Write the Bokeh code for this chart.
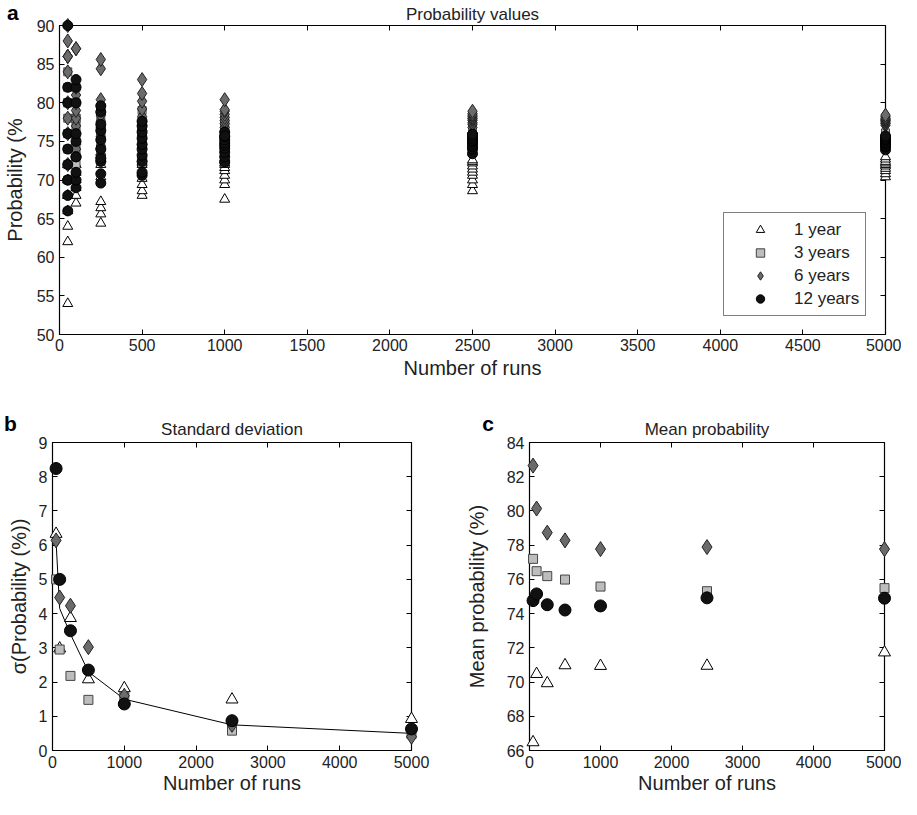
from bokeh.plotting import figure
from bokeh.models import Legend, LegendItem, LinearAxis, FixedTicker, Range1d
from bokeh.core.properties import value
from bokeh.layouts import column, row
from bokeh.embed import file_html
from bokeh.resources import INLINE

runs = [50, 100, 250, 500, 1000, 2500, 5000]
series_names = ["1 year", "3 years", "6 years", "12 years"]

# Panel a: probability values (%) of each repetition, per number of runs
prob_1yr = [
    [54, 62, 64, 66, 68, 68, 70, 70, 72, 72],
    [67, 68, 69, 70, 70, 71, 71, 72, 72, 75],
    [64.4, 65.6, 66.4, 67.2, 70.4, 72.0, 72.8, 73.6, 74.4, 73.2],
    [68.0, 68.6, 69.4, 70.2, 71.2, 72.0, 72.4, 72.8, 73.2, 72.2],
    [67.5, 69.4, 70.0, 70.6, 71.2, 71.6, 72.0, 72.2, 72.6, 72.9],
    [68.6, 69.4, 70.0, 70.6, 71.0, 71.4, 71.8, 72.2, 72.4, 72.6],
    [70.4, 70.8, 71.2, 71.5, 71.8, 72.0, 72.2, 72.4, 72.7, 73.0],
]
prob_3yr = [
    [70, 72, 74, 76, 76, 78, 80, 80, 82, 84],
    [72, 73, 74, 75, 76, 77, 78, 78, 80, 82],
    [72.4, 73.6, 74.8, 75.6, 76.0, 76.4, 77.2, 78.0, 78.8, 79.2],
    [73.0, 74.4, 75.0, 75.4, 75.8, 76.2, 76.6, 77.0, 77.6, 79.0],
    [73.0, 73.8, 74.5, 75.0, 75.5, 75.9, 76.3, 76.8, 77.4, 77.8],
    [74.4, 74.7, 75.0, 75.1, 75.3, 75.4, 75.6, 75.7, 75.8, 76.0],
    [74.8, 75.0, 75.2, 75.3, 75.5, 75.6, 75.7, 75.8, 76.0, 76.1],
]
prob_6yr = [
    [72, 76, 78, 80, 84, 86, 86, 86, 88, 90],
    [74, 76, 77, 78, 79, 80, 81, 82, 87, 87],
    [73.2, 74.4, 75.6, 76.8, 77.6, 78.4, 79.6, 80.4, 84.4, 85.6],
    [74.6, 75.8, 76.4, 77.0, 77.6, 78.2, 79.2, 80.2, 81.2, 83.0],
    [75.4, 76.2, 76.8, 77.3, 77.7, 78.1, 78.5, 78.9, 79.1, 80.4],
    [76.8, 77.2, 77.4, 77.7, 77.9, 78.0, 78.2, 78.4, 78.6, 78.9],
    [77.1, 77.3, 77.4, 77.6, 77.7, 77.8, 77.9, 78.0, 78.2, 78.4],
]
prob_12yr = [
    [66, 68, 70, 70, 72, 74, 76, 80, 82, 90],
    [69, 70, 71, 73, 73, 75, 76, 80, 82, 83],
    [69.6, 70.8, 72.4, 72.8, 74.0, 75.2, 76.4, 77.2, 78.8, 79.6],
    [70.6, 71.0, 72.4, 73.2, 74.0, 74.6, 75.4, 76.2, 77.0, 77.6],
    [72.3, 73.0, 73.6, 74.1, 74.5, 74.8, 75.2, 75.6, 76.2, 75.7],
    [73.4, 74.0, 74.3, 74.6, 74.9, 75.1, 75.3, 75.6, 75.9, 75.9],
    [73.9, 74.3, 74.5, 74.7, 74.9, 75.0, 75.2, 75.3, 75.5, 75.7],
]

# Panel b: standard deviation of probability (%)
std_1yr = [6.33, 2.98, 3.87, 2.08, 1.82, 1.49, 0.92]
std_3yr = [5.00, 2.95, 2.18, 1.48, 1.57, 0.58, 0.48]
std_6yr = [6.14, 4.47, 4.23, 3.02, 1.60, 0.75, 0.40]
std_12yr = [8.24, 5.00, 3.50, 2.35, 1.36, 0.87, 0.63]
std_curve = [6.10, 4.15, 3.40, 2.30, 1.50, 0.75, 0.50]

# Panel c: mean probability (%)
mean_1yr = [66.48, 70.47, 69.93, 70.98, 70.94, 70.95, 71.73]
mean_3yr = [77.20, 76.48, 76.19, 75.99, 75.58, 75.31, 75.49]
mean_6yr = [82.65, 80.14, 78.73, 78.28, 77.77, 77.89, 77.77]
mean_12yr = [74.76, 75.15, 74.52, 74.21, 74.45, 74.92, 74.90]

xticks_a = [0, 500, 1000, 1500, 2000, 2500, 3000, 3500, 4000, 4500, 5000]
yticks_a = [50, 55, 60, 65, 70, 75, 80, 85, 90]
xticks_bc = [0, 1000, 2000, 3000, 4000, 5000]
yticks_b = [0, 1, 2, 3, 4, 5, 6, 7, 8, 9]
yticks_c = [66, 68, 70, 72, 74, 76, 78, 80, 82, 84]

FONT = "Liberation Sans"

STYLES = [
    dict(marker="triangle", fill_color="white", line_color="black"),
    dict(marker="square", fill_color="#bdbdbd", line_color="#444444"),
    dict(marker="diamond", fill_color="#6b6b6b", line_color="#222222"),
    dict(marker="circle", fill_color="#111111", line_color="#000000"),
]
SIZE_A = [10, 8, 14, 10]
SIZE_BC = [12, 9, 15, 12]


def make_fig(w, h, bl, br, bt, bb, xr, yr, xt, yt, title, xlabel, ylabel,
             ystandoff, xlab_standoff, xaxis_standoff, title_standoff):
    p = figure(width=w, height=h, output_backend="svg", toolbar_location=None,
               x_range=Range1d(*xr), y_range=Range1d(*yr),
               min_border_left=bl, min_border_right=br,
               min_border_top=bt, min_border_bottom=bb)
    p.title.text = title
    p.title.text_font = FONT
    p.title.text_font_style = "normal"
    p.title.text_font_size = "17px"
    p.title.align = "center"
    p.title.text_color = "#222222"
    p.title.standoff = title_standoff
    p.xgrid.visible = False
    p.ygrid.visible = False
    p.outline_line_color = "black"
    p.outline_line_alpha = 1
    p.outline_line_width = 1.2
    p.xaxis.ticker = FixedTicker(ticks=xt)
    p.yaxis.ticker = FixedTicker(ticks=yt)
    p.xaxis.axis_label = xlabel
    p.yaxis.axis_label = ylabel
    for ax in p.xaxis + p.yaxis:
        ax.axis_label_text_font = FONT
        ax.axis_label_text_font_style = "normal"
        ax.axis_label_text_font_size = "20px"
        ax.axis_label_text_color = "#222222"
        ax.major_label_text_font = FONT
        ax.major_label_text_font_size = "16px"
        ax.major_label_text_color = "#222222"
        ax.major_tick_in = 5
        ax.major_tick_out = 0
        ax.minor_tick_line_color = None
        ax.axis_line_color = "black"
        ax.major_tick_line_color = "black"
    p.xaxis.major_label_standoff = xlab_standoff
    p.xaxis.axis_label_standoff = xaxis_standoff
    p.yaxis.major_label_standoff = 5
    p.yaxis.axis_label_standoff = ystandoff
    # tick marks on the right and top edges of the box (no labels)
    ax_r = LinearAxis(ticker=FixedTicker(ticks=yt), major_label_overrides={t: "" for t in yt},
                      major_label_text_font_size="1px",
                      major_tick_in=5, major_tick_out=0, minor_tick_line_color=None,
                      axis_line_color=None, major_label_standoff=0)
    ax_t = LinearAxis(ticker=FixedTicker(ticks=xt), major_label_overrides={t: "" for t in xt},
                      major_label_text_font_size="1px",
                      major_tick_in=5, major_tick_out=0, minor_tick_line_color=None,
                      axis_line_color=None, major_label_standoff=0)
    p.add_layout(ax_r, "right")
    p.add_layout(ax_t, "above")
    return p


def panel_letter(p, txt, x, y):
    p.text(x=[x], y=[y], text=[txt], text_font=value(FONT), text_font_style="bold",
           text_font_size="21px", text_align="center", text_baseline="middle",
           text_color="black", level="overlay")


# ---- Panel a ----
pa = make_fig(901, 384, 53, 16, 24, 50, (0, 5000), (50, 90), xticks_a, yticks_a,
              "Probability values", "Number of runs", "Probability (%", 8, 4, 3, 4)
items = []
for name, data, st, sz in zip(series_names, [prob_1yr, prob_3yr, prob_6yr, prob_12yr], STYLES, SIZE_A):
    xs, ys = [], []
    for r, vals in zip(runs, data):
        xs += [r] * len(vals)
        ys += vals
    rr = pa.scatter(xs, ys, size=sz, line_width=1, level="overlay", **st)
    items.append(LegendItem(label=name, renderers=[rr]))
legend = Legend(items=items, location=(664, 18), label_text_font=FONT,
                label_text_font_size="17px", label_text_color="#222222",
                border_line_color="black", border_line_width=1, background_fill_alpha=1,
                padding=6, spacing=2, margin=0, glyph_width=60, glyph_height=21,
                label_height=21, label_standoff=4)
pa.add_layout(legend)
# panel letter: 47 px left of / 13 px above the box corner
panel_letter(pa, "a", -47 * 5000 / 832, 90 + 13 * 40 / 310)

# ---- Panel b ----
pb = make_fig(462, 415, 52, 51, 58, 49, (0, 5000), (0, 9), xticks_bc, yticks_b,
              "Standard deviation", "Number of runs", "σ(Probability (%))", 6, 5, 1, 8)
pb.line(runs, std_curve, line_color="black", line_width=1)
for data, st, sz in zip([std_1yr, std_3yr, std_6yr, std_12yr], STYLES, SIZE_BC):
    pb.scatter(runs, data, size=sz, line_width=1, level="overlay", **st)
panel_letter(pb, "b", -42 * 5000 / 359, 9 + 19 * 9 / 308)

# ---- Panel c ----
pc = make_fig(439, 415, 63, 17, 58, 49, (0, 5000), (66, 84), xticks_bc, yticks_c,
              "Mean probability", "Number of runs", "Mean probability (%)", 16, 5, 1, 8)
for data, st, sz in zip([mean_1yr, mean_3yr, mean_6yr, mean_12yr], STYLES, SIZE_BC):
    pc.scatter(runs, data, size=sz, line_width=1, level="overlay", **st)
panel_letter(pc, "c", -42 * 5000 / 359, 84 + 19 * 18 / 308)

layout = column(pa, row(pb, pc))
open("out.html", "w").write(file_html(layout, INLINE))
